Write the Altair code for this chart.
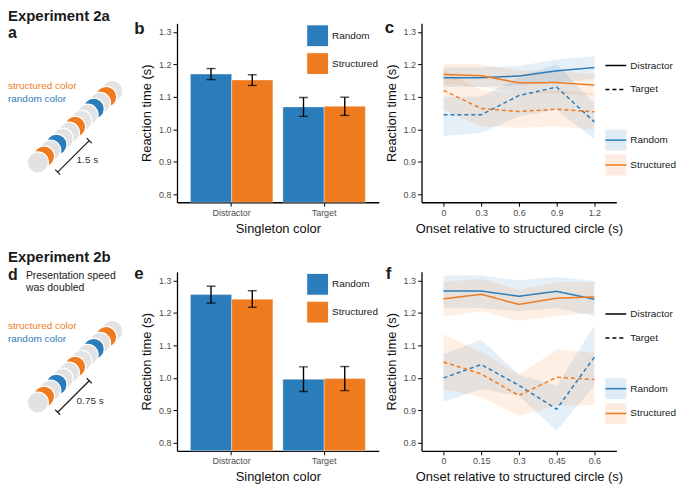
import altair as alt
import pandas as pd

FONT = "Liberation Sans"
BLUE = "#2b7cba"
ORANGE = "#ef7b21"
CIRCLE_GRAY = "#e2e2e2"
TICK_GRAY = "#4d4d4d"

# ---------------- data ----------------
singleton = ["Distractor", "Distractor", "Target", "Target"]
condition = ["Random", "Structured", "Random", "Structured"]

rt_2a = [1.170, 1.152, 1.069, 1.071]
lo_2a = [1.153, 1.135, 1.040, 1.043]
hi_2a = [1.187, 1.168, 1.098, 1.099]

rt_2b = [1.256, 1.242, 0.996, 0.998]
lo_2b = [1.230, 1.217, 0.958, 0.961]
hi_2b = [1.282, 1.268, 1.034, 1.035]

onset_2a = [0, 0.3, 0.6, 0.9, 1.2]
rand_dist_2a = [1.159, 1.159, 1.164, 1.180, 1.190]
rand_dist_2a_lo = [1.130, 1.130, 1.135, 1.145, 1.155]
rand_dist_2a_hi = [1.190, 1.190, 1.195, 1.215, 1.225]
str_dist_2a = [1.169, 1.165, 1.143, 1.144, 1.136]
str_dist_2a_lo = [1.140, 1.130, 1.110, 1.110, 1.105]
str_dist_2a_hi = [1.200, 1.200, 1.180, 1.180, 1.170]
rand_targ_2a = [1.045, 1.045, 1.104, 1.130, 1.023]
rand_targ_2a_lo = [0.980, 0.990, 1.040, 1.060, 0.970]
rand_targ_2a_hi = [1.100, 1.100, 1.160, 1.200, 1.080]
str_targ_2a = [1.120, 1.064, 1.055, 1.062, 1.054]
str_targ_2a_lo = [1.060, 1.010, 1.005, 1.010, 1.000]
str_targ_2a_hi = [1.180, 1.120, 1.110, 1.120, 1.110]

onset_2b = [0, 0.15, 0.3, 0.45, 0.6]
rand_dist_2b = [1.267, 1.267, 1.251, 1.266, 1.242]
rand_dist_2b_lo = [1.215, 1.215, 1.205, 1.215, 1.190]
rand_dist_2b_hi = [1.315, 1.315, 1.300, 1.310, 1.298]
str_dist_2b = [1.243, 1.257, 1.226, 1.245, 1.249]
str_dist_2b_lo = [1.189, 1.205, 1.175, 1.190, 1.200]
str_dist_2b_hi = [1.295, 1.305, 1.270, 1.295, 1.295]
rand_targ_2b = [1.000, 1.041, 0.977, 0.904, 1.064]
rand_targ_2b_lo = [0.927, 0.966, 0.945, 0.838, 0.976]
rand_targ_2b_hi = [1.073, 1.117, 1.010, 0.976, 1.161]
str_targ_2b = [1.049, 1.012, 0.946, 1.002, 0.995]
str_targ_2b_lo = [0.965, 0.941, 0.883, 0.915, 0.917]
str_targ_2b_hi = [1.134, 1.080, 1.010, 1.087, 1.077]

# schematic: circle sequence from front (bottom-left) to back (top-right)
seq_colors = ["gray", "orange", "gray", "blue", "gray", "gray", "orange",
              "gray", "gray", "blue", "gray", "orange", "gray"]

exp_titles = ["Experiment 2a", "Experiment 2b"]
panel_letters = ["a", "b", "c", "d", "e", "f"]
durations = ["1.5 s", "0.75 s"]
speed_note = ["Presentation speed", "was doubled"]
conds = ["Random", "Structured"]
singles = ["Distractor", "Target"]

Y_MIN, Y_MAX = 0.776, 1.326
SCH_W, BAR_W, LINE_W, H = 127, 203, 196, 180
LEG_X = 184


def txt(s, x, y, size=10, weight="normal", color="#1a1a1a", align="left", baseline="alphabetic"):
    return alt.Chart(pd.DataFrame({"t": [s]})).mark_text(
        align=align, baseline=baseline, fontSize=size, fontWeight=weight,
        color=color, font=FONT
    ).encode(text="t:N", x=alt.value(x), y=alt.value(y))


def rule(x, y, x2, y2):
    return alt.Chart(pd.DataFrame({"r": [0]})).mark_rule(
        color="#222222", strokeWidth=1.3
    ).encode(x=alt.value(x), y=alt.value(y), x2=alt.value(x2), y2=alt.value(y2))


def schematic(title, letter, duration, dy, title_y, letter_y, note=False):
    x0, sx, sy = 30.0, 6.25, 6.0
    y0 = 140.0 + dy
    df = pd.DataFrame({"k": list(range(len(seq_colors))), "c": seq_colors})
    circles = alt.Chart(df).mark_circle(
        size=452, opacity=1, stroke="white", strokeWidth=1.2
    ).encode(
        x=alt.X("k:Q", axis=None,
                scale=alt.Scale(domain=[-x0 / sx, (SCH_W - x0) / sx], nice=False, zero=False)),
        y=alt.Y("k:Q", axis=None,
                scale=alt.Scale(domain=[(y0 - H) / sy, y0 / sy], nice=False, zero=False)),
        color=alt.Color("c:N", legend=None,
                        scale=alt.Scale(domain=["gray", "orange", "blue"],
                                        range=[CIRCLE_GRAY, ORANGE, BLUE])),
        order=alt.Order("k:Q", sort="descending"),
    )
    ax, ay, bx, by = 50, 149.7 + dy, 81.7, 118 + dy
    layers = [
        circles,
        rule(ax, ay, bx, by),
        rule(ax - 2.5, ay - 2.5, ax + 2.5, ay + 2.5),
        rule(bx - 2.5, by - 2.5, bx + 2.5, by + 2.5),
        txt(duration, 69, 141 + dy, size=10, color="#333333"),
        txt("structured color", 0, 66 + dy, size=10, color=ORANGE),
        txt("random color", 0, 79.5 + dy, size=10, color=BLUE),
        txt(title, 0, title_y, size=15, weight="bold"),
        txt(letter, 0, letter_y, size=16, weight="bold"),
    ]
    if note:
        layers.append(txt(speed_note[0], 18, letter_y - 1, size=10.5, color="#222222"))
        layers.append(txt(speed_note[1], 18, letter_y + 11, size=10.5, color="#222222"))
    return alt.layer(*layers).properties(width=SCH_W, height=H)


def yaxis():
    return alt.Axis(title="Reaction time (s)", values=[0.8, 0.9, 1.0, 1.1, 1.2, 1.3],
                    format=".1f", titlePadding=5)


def bar_panel(vals, lo, hi, letter, lxy):
    df = pd.DataFrame({"Singleton": singleton, "Condition": condition,
                       "rt": vals, "lo": lo, "hi": hi, "base": [Y_MIN] * 4})
    base = alt.Chart(df)
    x = alt.X("Singleton:N", sort=singles,
              scale=alt.Scale(paddingInner=0.108, paddingOuter=0.145),
              axis=alt.Axis(title="Singleton color", labelAngle=0, titlePadding=5))
    xo = alt.XOffset("Condition:N", sort=conds, scale=alt.Scale(paddingInner=0, paddingOuter=0))
    ys = alt.Scale(domain=[Y_MIN, Y_MAX], nice=False, zero=False)
    bars = base.mark_bar(stroke="white", strokeWidth=0.6, strokeOpacity=0.6).encode(
        x=x, xOffset=xo,
        y=alt.Y("rt:Q", scale=ys, axis=yaxis()),
        y2="base:Q",
        fill=alt.Fill("Condition:N", sort=conds,
                      scale=alt.Scale(domain=conds, range=[BLUE, ORANGE]),
                      legend=alt.Legend(orient="none", legendX=130, legendY=1, title=None,
                                        symbolType="square", symbolSize=484,
                                        symbolStrokeColor="white", symbolStrokeWidth=1,
                                        symbolOpacity=1, labelFontSize=10, labelOffset=3,
                                        rowPadding=1, padding=0, labelColor="#1a1a1a")),
    )
    err = base.mark_rule(color="black", strokeWidth=1.4).encode(
        x=x, xOffset=xo, y=alt.Y("lo:Q", scale=ys, axis=yaxis()), y2="hi:Q")
    cap_lo = base.mark_tick(color="black", size=9, thickness=1.4).encode(
        x=x, xOffset=xo, y=alt.Y("lo:Q", scale=ys, axis=yaxis()))
    cap_hi = base.mark_tick(color="black", size=9, thickness=1.4).encode(
        x=x, xOffset=xo, y=alt.Y("hi:Q", scale=ys, axis=yaxis()))
    lab = txt(letter, lxy[0], lxy[1], size=17, weight="bold")
    return alt.layer(bars, err, cap_lo, cap_hi, lab).properties(width=BAR_W, height=H)


def line_panel(onset, series, letter, lxy):
    rows = []
    for cond, sing, rt, lo, hi in series:
        for o, r, l, h in zip(onset, rt, lo, hi):
            rows.append(dict(onset=o, Condition=cond, Band=cond, Singleton=sing,
                             rt=r, lo=l, hi=h))
    df = pd.DataFrame(rows)
    last = onset[-1]
    pad = last * 0.175 / 1.2
    xs = alt.Scale(domain=[-pad, last + pad], nice=False, zero=False)
    xaxis = alt.Axis(title="Onset relative to structured circle (s)", values=onset,
                     format=".3~g", titlePadding=5)
    ys = alt.Scale(domain=[Y_MIN, Y_MAX], nice=False, zero=False)
    band = alt.Chart(df).mark_area(opacity=0.12).encode(
        x=alt.X("onset:Q", scale=xs, axis=xaxis),
        y=alt.Y("lo:Q", scale=ys, axis=yaxis()),
        y2="hi:Q",
        fill=alt.Fill("Band:N", sort=conds,
                      scale=alt.Scale(range=[BLUE, ORANGE]),
                      legend=alt.Legend(orient="none", legendX=LEG_X, legendY=106, title=None,
                                        symbolType="square", symbolSize=441,
                                        symbolOpacity=0.14, symbolStrokeWidth=1.5,
                                        symbolStrokeColor="transparent",
                                        labelOpacity=0, labelFontSize=10, labelOffset=3,
                                        rowPadding=-2, padding=0)),
        detail="Singleton:N",
    )
    line = alt.Chart(df).mark_line(strokeWidth=1.5).encode(
        x=alt.X("onset:Q", scale=xs, axis=xaxis),
        y=alt.Y("rt:Q", scale=ys, axis=yaxis()),
        stroke=alt.Stroke("Condition:N", sort=conds,
                          scale=alt.Scale(domain=conds, range=[BLUE, ORANGE]),
                          legend=alt.Legend(orient="none", legendX=LEG_X, legendY=106, title=None,
                                            symbolType="stroke", symbolSize=441,
                                            symbolStrokeWidth=1.5, labelFontSize=10,
                                            labelOffset=3, rowPadding=8, padding=0,
                                            labelColor="#1a1a1a")),
        strokeDash=alt.StrokeDash("Singleton:N", sort=singles,
                                  scale=alt.Scale(domain=singles, range=[[1, 0], [4, 3]]),
                                  legend=alt.Legend(orient="none", legendX=LEG_X, legendY=31,
                                                    title=None, symbolType="stroke",
                                                    symbolSize=441, symbolStrokeColor="black",
                                                    symbolStrokeWidth=1.5, labelFontSize=10,
                                                    labelOffset=3, rowPadding=7, padding=0,
                                                    labelColor="#1a1a1a")),
    )
    lab = txt(letter, lxy[0], lxy[1], size=17, weight="bold")
    return alt.layer(band, line, lab).properties(width=LINE_W, height=H)


series_2a = [
    ("Random", "Distractor", rand_dist_2a, rand_dist_2a_lo, rand_dist_2a_hi),
    ("Structured", "Distractor", str_dist_2a, str_dist_2a_lo, str_dist_2a_hi),
    ("Random", "Target", rand_targ_2a, rand_targ_2a_lo, rand_targ_2a_hi),
    ("Structured", "Target", str_targ_2a, str_targ_2a_lo, str_targ_2a_hi),
]
series_2b = [
    ("Random", "Distractor", rand_dist_2b, rand_dist_2b_lo, rand_dist_2b_hi),
    ("Structured", "Distractor", str_dist_2b, str_dist_2b_lo, str_dist_2b_hi),
    ("Random", "Target", rand_targ_2b, rand_targ_2b_lo, rand_targ_2b_hi),
    ("Structured", "Target", str_targ_2b, str_targ_2b_lo, str_targ_2b_hi),
]

a = schematic(exp_titles[0], panel_letters[0], durations[0], 0, -2, 15)
b = bar_panel(rt_2a, lo_2a, hi_2a, panel_letters[1], (-43, 11))
c = line_panel(onset_2a, series_2a, panel_letters[2], (-37, 10))
d = schematic(exp_titles[1], panel_letters[3], durations[1], -8.5, -10, 8, note=True)
e = bar_panel(rt_2b, lo_2b, hi_2b, panel_letters[4], (-43, 7))
f = line_panel(onset_2b, series_2b, panel_letters[5], (-36, 7))

chart = alt.concat(
    a, b, c, d, e, f, columns=3, bounds="flush",
    spacing={"row": 70, "column": 43},
).resolve_scale(
    color="independent", fill="independent", stroke="independent", strokeDash="independent"
).resolve_legend(
    color="independent", fill="independent", stroke="independent", strokeDash="independent"
).properties(padding=0).configure_view(strokeWidth=0).configure_axis(
    labelFont=FONT, titleFont=FONT, grid=False, domainColor="black", tickColor="black",
    labelColor=TICK_GRAY, labelFontSize=9, titleFontSize=13, titleFontWeight="normal",
    titleColor="#111111", domainWidth=1.3, tickWidth=1, tickSize=4, labelPadding=2,
).configure_legend(labelFont=FONT, labelFontSize=10)

chart.save("out.html", embed_options={"renderer": "svg", "actions": False})
